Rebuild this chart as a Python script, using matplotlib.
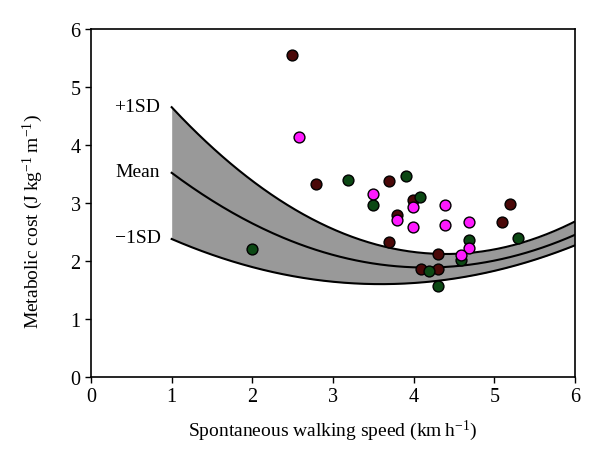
import matplotlib
matplotlib.use("Agg")
import matplotlib.pyplot as plt
import numpy as np

plt.rcParams['font.family'] = ['Liberation Serif', 'DejaVu Serif']
plt.rcParams['mathtext.fontset'] = 'custom'
plt.rcParams['mathtext.rm'] = 'Liberation Serif'
plt.rcParams['mathtext.it'] = 'Liberation Serif:italic'

# subjects, grouped by marker colour (speed km/h, cost J/kg/m)
maroon_x = [2.49, 2.79, 3.69, 3.69, 3.79, 3.99, 4.09, 4.30, 4.30, 5.10, 5.19]
maroon_y = [5.56, 3.33, 3.38, 2.32, 2.80, 3.06, 1.87, 2.12, 1.86, 2.67, 2.98]

green_x = [1.99, 3.19, 3.49, 3.90, 4.08, 4.19, 4.30, 4.59, 4.69, 5.29]
green_y = [2.20, 3.40, 2.97, 3.47, 3.10, 1.83, 1.57, 2.01, 2.37, 2.40]

magenta_x = [2.58, 3.49, 3.79, 3.99, 3.99, 4.39, 4.39, 4.69, 4.69, 4.59]
magenta_y = [4.13, 3.16, 2.70, 2.93, 2.59, 2.97, 2.62, 2.68, 2.22, 2.10]

# quadratic fits (a, b, c) for mean and +/-1 SD
upper_coef = [0.219, -1.927, 6.36]
mean_coef = [0.1646, -1.366, 4.722]
lower_coef = [0.1156, -0.831, 3.095]

band_labels = ['+1SD', 'Mean', '\u22121SD']

fig = plt.figure(figsize=(6, 4.64), dpi=100)
ax = fig.add_axes([0.1517, 0.1853, 0.8066, 0.75])

xs = np.linspace(1, 6, 200)
up = np.polyval(upper_coef, xs)
mid = np.polyval(mean_coef, xs)
lo = np.polyval(lower_coef, xs)

ax.fill_between(xs, lo, up, color='#999999', lw=0, zorder=1)
for ys in (up, mid, lo):
    ax.plot(xs, ys, color='black', lw=1.5, zorder=2)

for lab, coef in zip(band_labels, (upper_coef, mean_coef, lower_coef)):
    ax.text(0.86, np.polyval(coef, 1.0) + 0.02, lab, ha='right', va='center',
            fontsize=14)

kw = dict(marker='o', ls='none', ms=7.8, mec='black', mew=1.0, zorder=3)
ax.plot(maroon_x, maroon_y, mfc='#4a0808', **kw)
ax.plot(green_x, green_y, mfc='#0c4814', **kw)
ax.plot(magenta_x, magenta_y, mfc='#ff1aff', **kw)

ax.set_xlim(0, 6)
ax.set_ylim(0, 6)
ax.set_xticks(range(7))
ax.set_yticks(range(7))
ax.tick_params(direction='out', length=4, width=1, labelsize=14.5,
               top=False, right=False)
for sp in ax.spines.values():
    sp.set_linewidth(1.2)

ax.set_xlabel('Spontaneous walking speed (km\u2009h$^{-1}$)', fontsize=14, labelpad=8)
ax.set_ylabel('Metabolic cost (J\u2009kg$^{-1}$\u2009m$^{-1}$)', fontsize=14)
ax.yaxis.set_label_coords(-0.095, 0.45)

fig.savefig('out.png', dpi=100)
